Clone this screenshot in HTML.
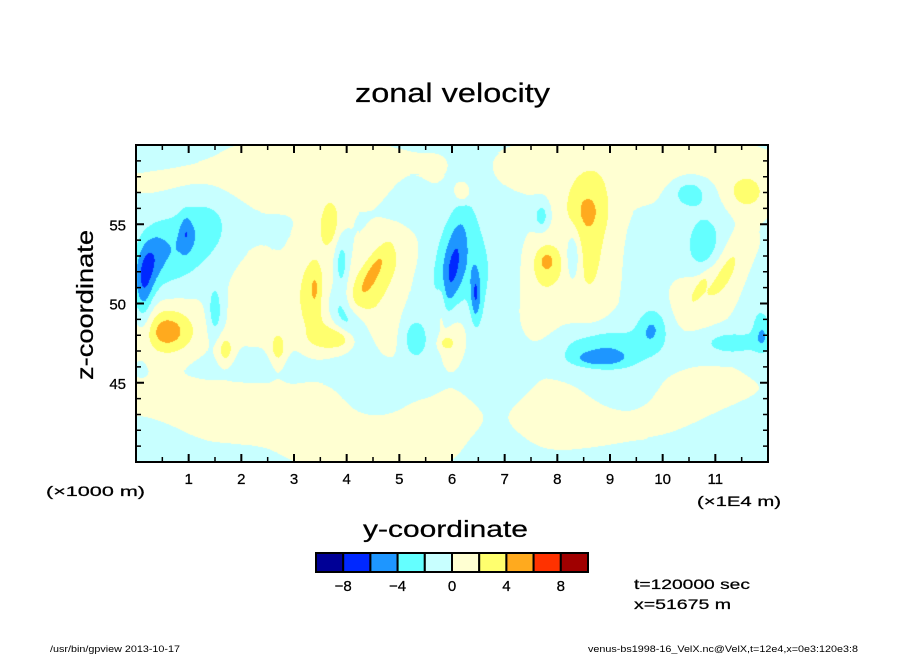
<!DOCTYPE html>
<html><head><meta charset="utf-8">
<style>
body{margin:0;background:#fff;width:904px;height:654px;overflow:hidden;position:relative;font-family:"Liberation Sans",sans-serif}
#plot{position:absolute;left:136px;top:145px}
svg{position:absolute;left:0;top:0}
</style></head>
<body>
<canvas id="plot" width="632" height="317"></canvas>
<svg id="ov" width="904" height="654"></svg>
<script>
// data: field features (y in 1e4 m, z in 1000 m, amplitude in m/s)
const blobY   =[0.25,0.8,0.95,1.5,0.15,4.0,3.9,6.0,6.0,6.45,5.3,8.3,7.7,8.8,8.9,9.8,10.8,10.5,11.3,11.9, 0.6,0.6,3.4,3.35,3.7,4.5,4.5,2.7,1.7,3.8,5.8,5.9,5.9,7.8,7.8,8.6,8.55,10.7,11.2,11.0,11.6,6.2,
 3.0,9.5,1.8,7.5,4.5,7.6,2.3,4.8,10.7,0.1,2.5,6.9,6.6,11.5,1.4,0.1,9.3,4.5,11.8,5.2];
const blobZ   =[52.5,53.5,54.5,49.5,50.5,49,52.5,52,52,50.5,47.8,53,55.5,46.5,47.2,48.5,53.5,57,47.5,48,48.2,48.3,51,50.5,55,52,51.5,47,47,47.8,50,47.5,48.5,52.7,52.5,53.5,56,51,52,51.5,57,57,
 58,58.5,43.5,43,41,49,50,48,44,41,46,45.5,52,42,55,59.5,44.5,45,50,56];
const blobAmp =[-3.6,-3.5,-2.3,-3.2,-3,-3.8,-3.2,-2.6,-3.5,-4.3,-3.2,-3.2,-3,-3.2,-3.5,-3.5,-3.6,-3.2,-3.2,-3,2.2,3.3,1.8,3.3,3.2,1.7,3.5,3.2,3.2,3.2,2.0,2.7,2.8,1.8,3.2,2.9,2.5,1.7,1.7,3.2,3.2,3.1,
 1.3,1.3,1.3,1.3,1.2,1.3,1.2,1.2,1.2,-1.3,-1.3,-1.4,-1.3,-1.3,-1.3,-1.3,-1.3,-1.2,-1.3,-1.2];
const blobSy  =[0.18,0.45,0.08,0.1,0.12,0.22,0.1,0.13,0.3,0.07,0.2,0.1,0.1,0.35,0.7,0.2,0.25,0.25,0.35,0.12,0.25,0.45,0.07,0.25,0.18,0.1,0.35,0.12,0.12,0.3,0.06,0.1,0.3,0.1,0.25,0.28,0.35,0.06,0.06,0.35,0.25,0.1,
 1.8,1.5,1.6,1.3,0.9,0.4,0.35,0.3,0.9,0.5,0.9,0.4,0.4,0.6,0.35,0.8,0.5,0.4,0.2,0.3];
const blobSz  =[1.5,1.8,0.8,1.2,2,1.2,1.5,2.4,3.2,1.2,1,1.2,0.6,0.35,0.9,0.9,1.5,0.7,0.5,0.8,0.8,1.2,0.8,2.2,1.2,1.2,2.2,0.9,0.7,0.5,1,0.3,1.6,0.4,1.2,3,1.2,0.6,0.6,1.6,0.8,0.4,
 1.2,1.2,1.2,1.2,1,2,2,1.5,1.2,1.3,0.7,4,2.5,1.5,1.5,0.6,1,1.3,2,1.5];
const blobTilt=[0.05,0.1,0,0,0,-0.15,0,0.05,0.05,0,0,0,0,0,0,0,0,0,0,0,0,0,0,0,0,0.15,0.15,0,0,0,0,0,0,0,0,0,0,0.15,0.15,0.15,0,0,
 0,0,0,0,0,0,0,0,0,0,0,0,0,0,0,0,0,0,0,0];
const levels=[-10,-8,-6,-4,-2,0,2,4,6,8,10];
const levelColors=["#000096","#0028ff","#1e96ff","#64ffff","#c8ffff","#ffffd2","#ffff6e","#ffaa1e","#ff3200","#a00000"];
const xTicks=[1,2,3,4,5,6,7,8,9,10,11];
const zTicks=[45,50,55];
const X0=136,X1=768,Y0=145,Y1=462;
const sx=y=>X0+(y-0)/(12-0)*(X1-X0);
const sy=z=>Y1-(z-40)/(60-40)*(Y1-Y0);

const cv=document.getElementById('plot');const ctx=cv.getContext('2d');
const W=632,H=317;const img=ctx.createImageData(W,H);
const rgb=levelColors.map(c=>[parseInt(c.substr(1,2),16),parseInt(c.substr(3,2),16),parseInt(c.substr(5,2),16)]);
for(let j=0;j<H;j++){const z=60-(j+0.5)/H*20;
 for(let i=0;i<W;i++){const y=(i+0.5)/W*12;let v=-0.2;
  for(let k=0;k<blobY.length;k++){const dz=(z-blobZ[k])/blobSz[k];if(dz>3||dz<-3)continue;
   const dy=((y-blobY[k])-blobTilt[k]*(z-blobZ[k]))/blobSy[k];if(dy>3||dy<-3)continue;
   v+=blobAmp[k]*Math.exp(-0.5*(dy*dy+dz*dz));}
  let b=0;while(b<9&&v>=levels[b+1])b++;
  const p=(j*W+i)*4;const c=rgb[b];img.data[p]=c[0];img.data[p+1]=c[1];img.data[p+2]=c[2];img.data[p+3]=255;}}
ctx.putImageData(img,0,0);

const ov=document.getElementById('ov');const NS='http://www.w3.org/2000/svg';
function mk(t,a,txt){const e=document.createElementNS(NS,t);for(const k in a)e.setAttribute(k,a[k]);if(txt!==undefined)e.textContent=txt;ov.appendChild(e);return e;}
let e;
e=mk('rect',{x:X0,y:Y0,width:X1-X0,height:Y1-Y0,fill:'none',stroke:'#000','stroke-width':2});


for(let t=0.5;t<12;t+=0.5){const L=(t%1===0)?8:5;const x=sx(t);
 e=mk('path',{d:`M${x},${Y1}v${-L}M${x},${Y0}v${L}`,stroke:'#000','stroke-width':(t%1===0)?2:1.5});
 
 }
for(let z=41;z<60;z++){const L=(z%5===0)?8:5;const y=sy(z);
 e=mk('path',{d:`M${X0},${y}h${L}M${X1},${y}h${-L}`,stroke:'#000','stroke-width':(z%5===0)?2:1.5});
 
 }
xTicks.forEach(t=>{e=mk('text',{x:sx(t),y:484,'text-anchor':'middle','font-size':15,stroke:'#000','stroke-width':0.25},String(t));
 
 });
zTicks.forEach(t=>{e=mk('text',{x:126,y:sy(t)+6,'text-anchor':'end','font-size':15,stroke:'#000','stroke-width':0.25},String(t));
 
 });
const cbX=316,cbW=272,cbY=553,cbH=19;
levelColors.forEach((c,i)=>{e=mk('rect',{x:cbX+i*cbW/10,y:cbY,width:cbW/10,height:cbH,fill:c,stroke:'#000','stroke-width':2});
 
 });
levels.forEach((l,i)=>{if(l%4!==0||Math.abs(l)>8)return;
 e=mk('text',{x:cbX+i*cbW/10,y:591,'text-anchor':'middle','font-size':15,stroke:'#000','stroke-width':0.25},(l<0?'\u2212':'')+Math.abs(l));
 
 });
</script>
<svg width="904" height="654" style="pointer-events:none" font-family="Liberation Sans">
<text x="355" y="102" textLength="195" lengthAdjust="spacingAndGlyphs" font-size="27" stroke="#000" stroke-width="0.25">zonal velocity</text>
<text x="363" y="537" textLength="165" lengthAdjust="spacingAndGlyphs" font-size="23" stroke="#000" stroke-width="0.25">y-coordinate</text>
<text transform="translate(93,380) rotate(-90)" textLength="150" lengthAdjust="spacingAndGlyphs" font-size="23" stroke="#000" stroke-width="0.25">z-coordinate</text>
<text x="46" y="496" textLength="99" lengthAdjust="spacingAndGlyphs" font-size="14" stroke="#000" stroke-width="0.25">(×1000 m)</text>
<text x="697" y="506" textLength="84" lengthAdjust="spacingAndGlyphs" font-size="14" stroke="#000" stroke-width="0.25">(×1E4 m)</text>
<text x="634" y="589" textLength="116" lengthAdjust="spacingAndGlyphs" font-size="14" stroke="#000" stroke-width="0.25">t=120000 sec</text>
<text x="634" y="609" textLength="97" lengthAdjust="spacingAndGlyphs" font-size="14" stroke="#000" stroke-width="0.25">x=51675 m</text>
<text x="50" y="652" textLength="130" lengthAdjust="spacingAndGlyphs" font-size="9">/usr/bin/gpview  2013-10-17</text>
<text x="588" y="652" textLength="270" lengthAdjust="spacingAndGlyphs" font-size="9">venus-bs1998-16_VelX.nc@VelX,t=12e4,x=0e3:120e3:8</text>
</svg>
</body></html>
